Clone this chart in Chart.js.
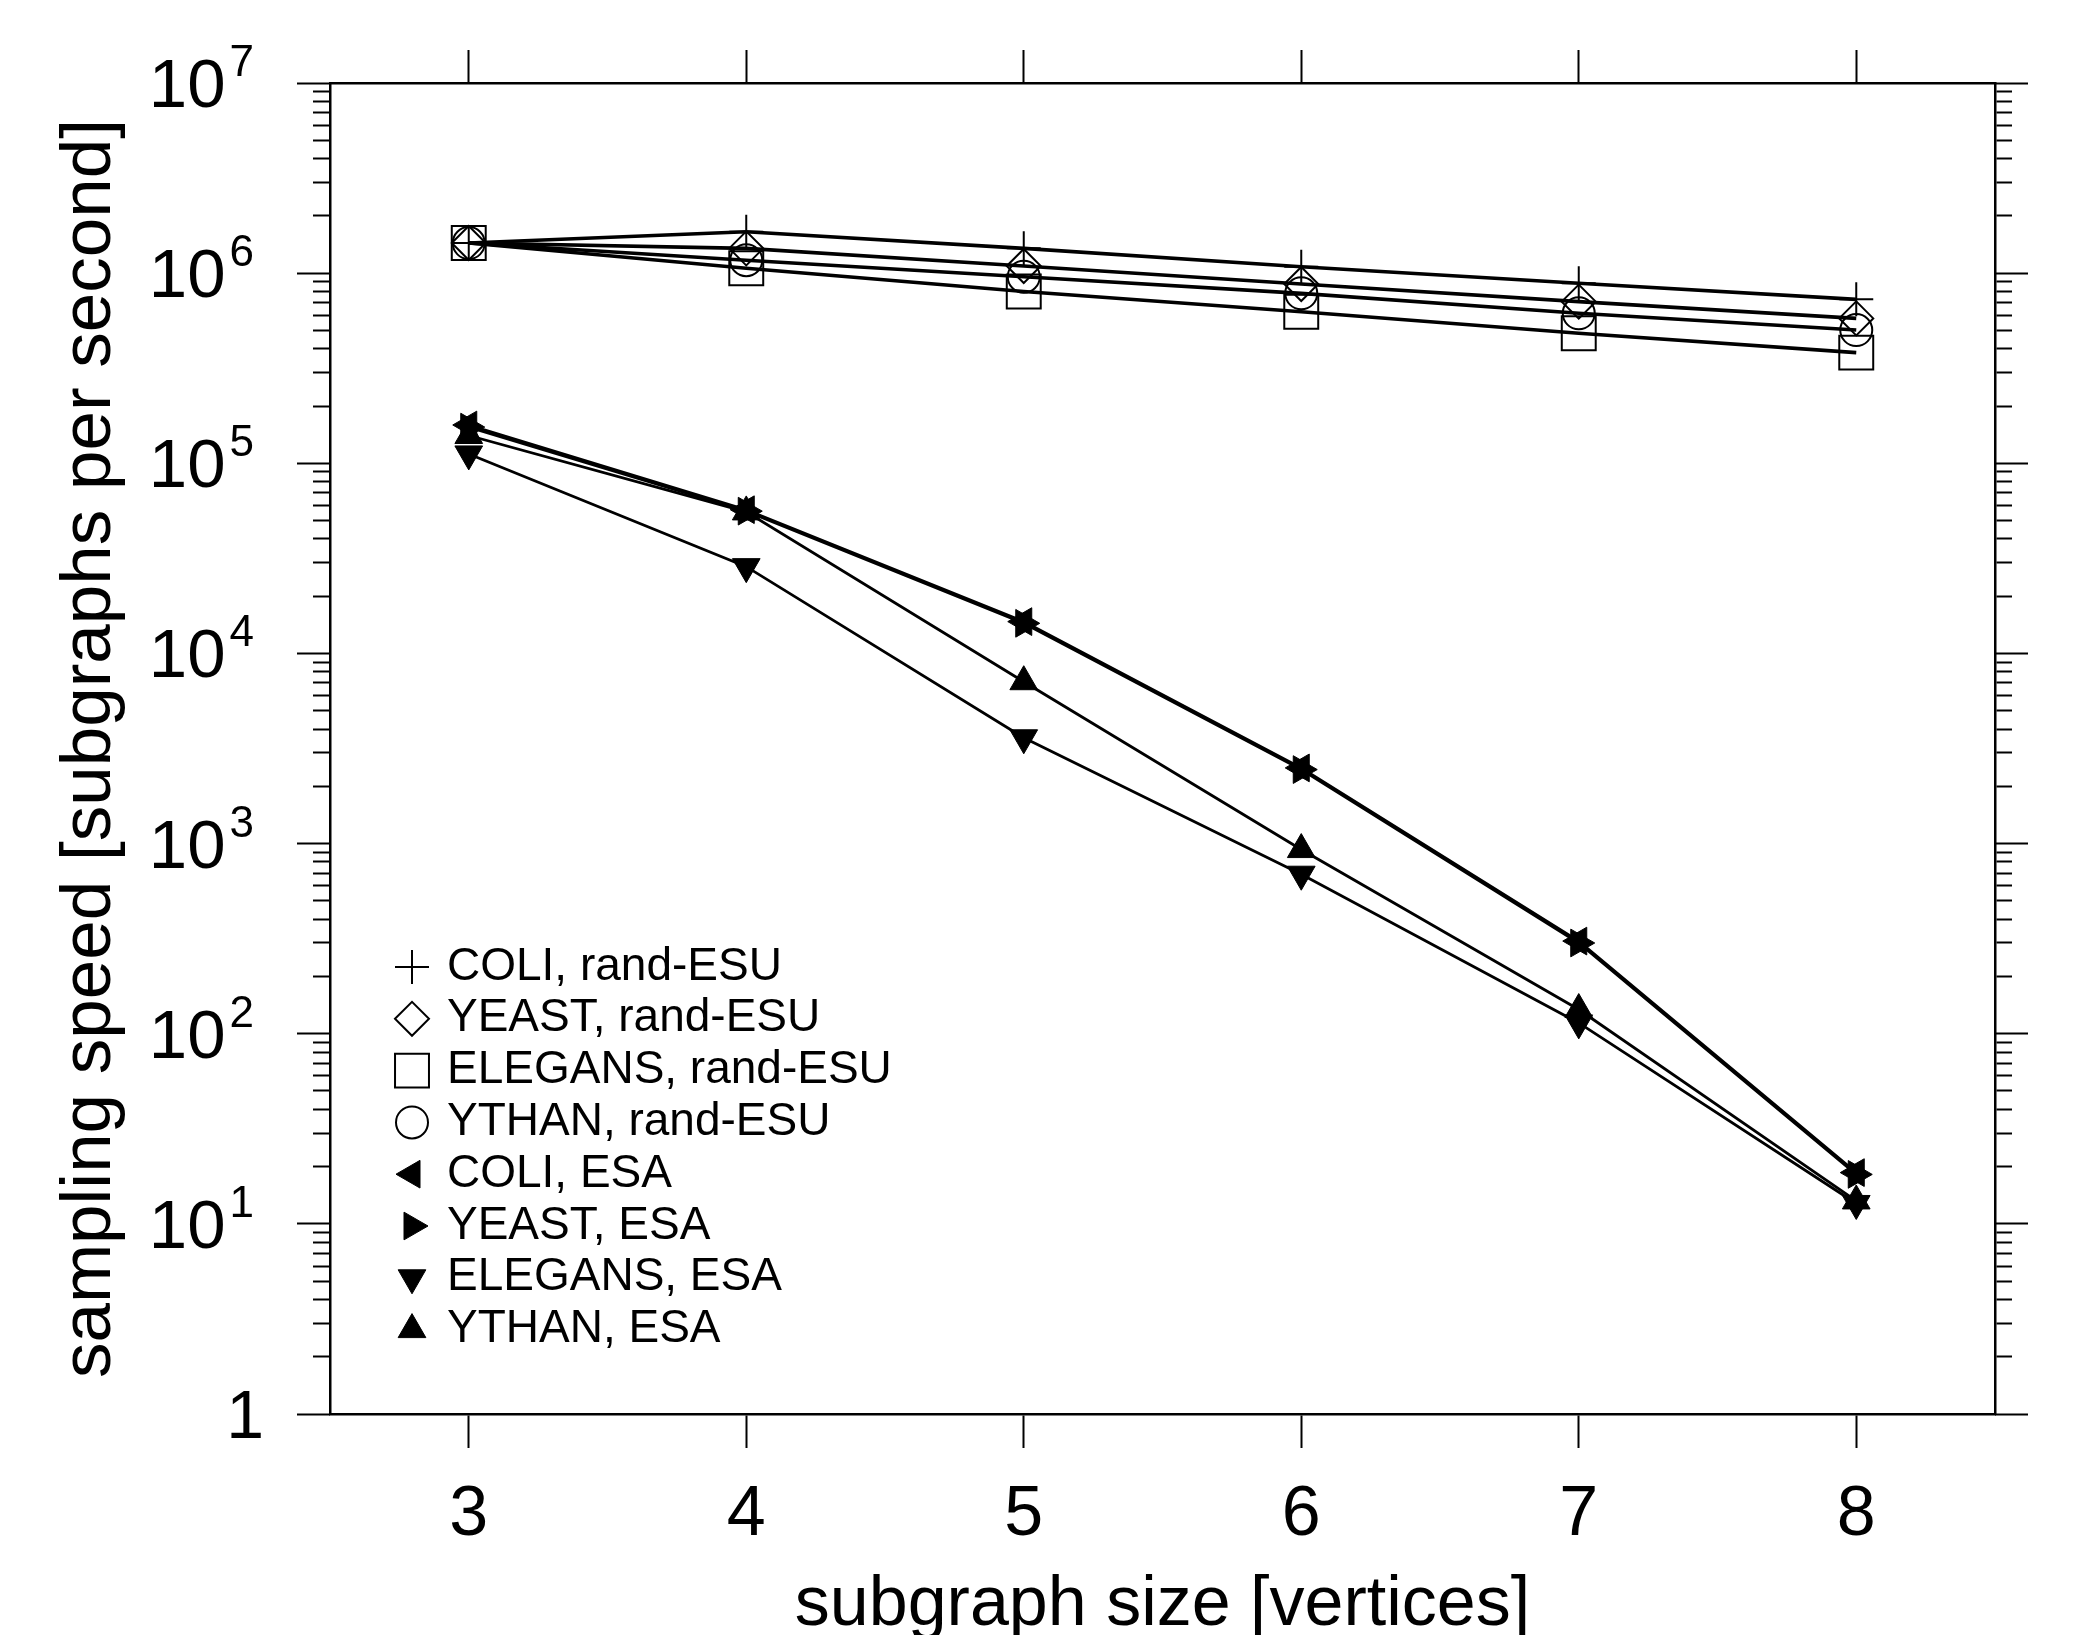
<!DOCTYPE html>
<html>
<head>
<meta charset="utf-8">
<title>Sampling speed vs subgraph size</title>
<script src="https://cdn.jsdelivr.net/npm/chart.js@4.4.1/dist/chart.umd.min.js"></script>
<style>
  html, body { margin: 0; padding: 0; background: #fff; overflow: hidden; }
  #wrap { width: 2093px; height: 1635px; }
</style>
</head>
<body>
<div id="wrap"><canvas id="speedChart" width="2093" height="1635"></canvas></div>
<script>
// --- data ---
const sizes = [3, 4, 5, 6, 7, 8];

// sampling speed [subgraphs per second]
const coliRandEsu    = [1.44e6, 1.65e6, 1.35e6, 1.08e6, 8.85e5, 7.28e5];
const yeastRandEsu   = [1.44e6, 1.35e6, 1.09e6, 8.77e5, 7.08e5, 5.78e5];
const elegansRandEsu = [1.44e6, 1.06e6, 8.0e5, 6.27e5, 4.83e5, 3.82e5];
const ythanRandEsu   = [1.44e6, 1.17e6, 9.58e5, 7.83e5, 6.15e5, 5.02e5];
const coliEsa        = [1.59e5, 5.7e4, 1.47e4, 2.5e3, 307, 18.6];
const yeastEsa       = [1.55e5, 5.6e4, 1.44e4, 2.45e3, 300, 18.2];
const elegansEsa     = [1.12e5, 2.86e4, 3.6e3, 690, 114, 12.8];
const ythanEsa       = [1.40e5, 5.55e4, 7.1e3, 930, 134, 13.2];

const seriesLabels = [
  'COLI, rand-ESU', 'YEAST, rand-ESU', 'ELEGANS, rand-ESU', 'YTHAN, rand-ESU',
  'COLI, ESA', 'YEAST, ESA', 'ELEGANS, ESA', 'YTHAN, ESA'
];

// y axis decades 10^0..10^7, minor ticks at 2..9 in each decade
const yExponents = [0, 1, 2, 3, 4, 5, 6, 7];
const yMinorSteps = [2, 3, 4, 5, 6, 7, 8, 9];

const xTitle = 'subgraph size [vertices]';
const yTitle = 'sampling speed [subgraphs per second]';

// --- styles ---
const FONT = '"Liberation Sans", Arial, Helvetica, sans-serif';
const BLACK = '#000';
const NONE = 'rgba(0,0,0,0)';

const seriesValues = [
  coliRandEsu, yeastRandEsu, elegansRandEsu, ythanRandEsu,
  coliEsa, yeastEsa, elegansEsa, ythanEsa
];
const seriesMarkers = [
  { pointStyle: 'cross',    radius: 17, rotation: 0,   fill: NONE,  lineW: 3.6, pointW: 2 },
  { pointStyle: 'rectRot',  radius: 17, rotation: 0,   fill: NONE,  lineW: 3.6, pointW: 2 },
  { pointStyle: 'rect',     radius: 24, rotation: 0,   fill: NONE,  lineW: 3.6, pointW: 2 },
  { pointStyle: 'circle',   radius: 16, rotation: 0,   fill: NONE,  lineW: 3.6, pointW: 2 },
  { pointStyle: 'triangle', radius: 16, rotation: -90, fill: BLACK, lineW: 2.8, pointW: 1 },
  { pointStyle: 'triangle', radius: 16, rotation: 90,  fill: BLACK, lineW: 2.8, pointW: 1 },
  { pointStyle: 'triangle', radius: 16, rotation: 180, fill: BLACK, lineW: 2.8, pointW: 1 },
  { pointStyle: 'triangle', radius: 16, rotation: 0,   fill: BLACK, lineW: 2.8, pointW: 1 }
];

const datasets = seriesLabels.map((label, i) => {
  const m = seriesMarkers[i];
  return {
    label: label,
    data: sizes.map((s, j) => ({ x: s, y: seriesValues[i][j] })),
    borderColor: BLACK,
    borderWidth: m.lineW,
    tension: 0,
    fill: false,
    pointStyle: m.pointStyle,
    pointRadius: m.radius,
    pointRotation: m.rotation,
    pointBackgroundColor: m.fill,
    pointBorderColor: BLACK,
    pointBorderWidth: m.pointW,
    clip: false
  };
});

const yMajorValues = yExponents.map(e => Math.pow(10, e));
const yMinorValues = [];
yExponents.slice(0, -1).forEach(e => {
  yMinorSteps.forEach(s => yMinorValues.push(s * Math.pow(10, e)));
});

// --- plugins ---
// y tick labels as 10 with a raised exponent
const decadeLabels = {
  id: 'decadeLabels',
  afterDraw(chart) {
    const scale = chart.scales.yMajor;
    const ctx = chart.ctx;
    ctx.save();
    ctx.fillStyle = BLACK;
    ctx.textAlign = 'right';
    ctx.textBaseline = 'alphabetic';
    scale.ticks.forEach(t => {
      const y = scale.getPixelForValue(t.value);
      const exp = Math.round(Math.log10(t.value));
      if (exp === 0) {
        ctx.font = '68px ' + FONT;
        ctx.fillText('1', 264, y + 24);
        return;
      }
      ctx.font = '44px ' + FONT;
      const sup = String(exp);
      const supW = ctx.measureText(sup).width;
      ctx.fillText(sup, 254, y - 7);
      ctx.font = '69px ' + FONT;
      ctx.fillText('10', 254 - supW - 4, y + 24);
    });
    ctx.restore();
  }
};

// legend inside the plot, lower left
const insideLegend = {
  id: 'insideLegend',
  afterDatasetsDraw(chart) {
    const ctx = chart.ctx;
    const symX = 412, textX = 447, top = 967, rowH = 51.8;
    ctx.save();
    chart.data.datasets.forEach((ds, i) => {
      const y = top + i * rowH;
      ctx.fillStyle = ds.pointBackgroundColor;
      ctx.strokeStyle = BLACK;
      ctx.lineWidth = ds.pointBorderWidth;
      Chart.helpers.drawPoint(ctx, {
        pointStyle: ds.pointStyle,
        rotation: ds.pointRotation,
        radius: ds.pointRadius,
        borderWidth: ds.pointBorderWidth
      }, symX, y);
      ctx.fillStyle = BLACK;
      ctx.font = '46px ' + FONT;
      ctx.textAlign = 'left';
      ctx.textBaseline = 'middle';
      ctx.fillText(ds.label, textX, y);
    });
    ctx.restore();
  }
};

// --- scales ---
const tickGrid = (len) => ({
  display: true,
  drawOnChartArea: false,
  drawTicks: true,
  tickLength: len,
  tickWidth: 2,
  tickColor: BLACK
});

const logAxis = (position, weight, values, len, width, border) => ({
  type: 'logarithmic',
  position: position,
  weight: weight,
  min: 1,
  max: 1e7,
  afterBuildTicks: (scale) => { scale.ticks = values.map(v => ({ value: v })); },
  afterFit: (scale) => { scale.width = width; },
  ticks: { display: false },
  grid: tickGrid(len),
  border: { display: border, color: BLACK, width: 2.5 }
});

const ctx = document.getElementById('speedChart').getContext('2d');
const chart = new Chart(ctx, {
  type: 'line',
  data: { datasets: datasets },
  options: {
    responsive: false,
    animation: false,
    events: [],
    layout: { padding: 0 },
    plugins: {
      legend: { display: false },
      tooltip: { enabled: false }
    },
    scales: {
      x: {
        type: 'linear',
        position: 'bottom',
        min: 2.5,
        max: 8.5,
        afterBuildTicks: (scale) => { scale.ticks = sizes.map(v => ({ value: v })); },
        afterFit: (scale) => { scale.height = 221; },
        ticks: {
          color: BLACK,
          autoSkip: false,
          maxRotation: 0,
          padding: 26,
          font: { family: FONT, size: 70, lineHeight: 1.2 },
          callback: (v) => String(v)
        },
        grid: tickGrid(34),
        border: { display: true, color: BLACK, width: 2.5 },
        title: {
          display: true,
          text: xTitle,
          color: BLACK,
          font: { family: FONT, size: 70, lineHeight: 0.9 },
          padding: { top: 0, bottom: -2 }
        }
      },
      xTop: {
        type: 'linear',
        position: 'top',
        min: 2.5,
        max: 8.5,
        afterBuildTicks: (scale) => { scale.ticks = sizes.map(v => ({ value: v })); },
        afterFit: (scale) => { scale.height = 83; },
        ticks: { display: false },
        grid: tickGrid(33),
        border: { display: true, color: BLACK, width: 2.5 }
      },
      y: logAxis('left', 0, yMinorValues, 17, 0, true),
      yMajor: Object.assign(logAxis('left', 1, yMajorValues, 33, 330, false), {
        title: {
          display: true,
          text: yTitle,
          color: BLACK,
          font: { family: FONT, size: 71, lineHeight: 0.9 },
          padding: { top: 58, bottom: 0 }
        }
      }),
      yRight: logAxis('right', 0, yMinorValues, 17, 0, true),
      yRightMajor: logAxis('right', 1, yMajorValues, 33, 98, false)
    }
  },
  plugins: [decadeLabels, insideLegend]
});
</script>
</body>
</html>
